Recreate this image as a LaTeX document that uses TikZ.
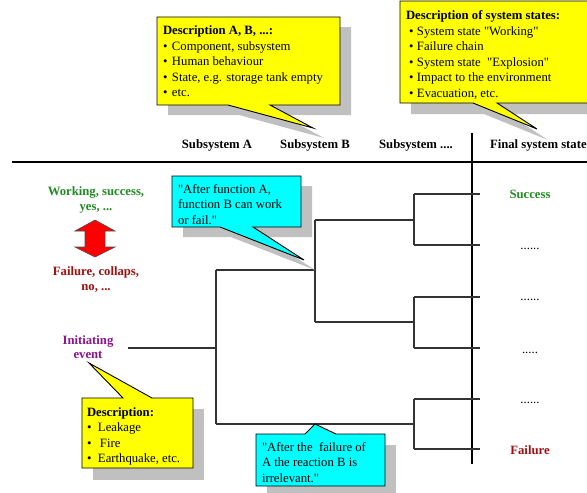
\documentclass[tikz,border=0pt]{standalone}
\usepackage{fontspec}
\setmainfont{Liberation Serif}[Ligatures=TeXOff]
\definecolor{okgreen}{RGB}{34,139,34}
\definecolor{failred}{RGB}{160,16,16}
\definecolor{initpurple}{RGB}{140,20,140}
\definecolor{shadowgray}{RGB}{192,192,192}
\definecolor{cyanbox}{RGB}{0,255,255}
\definecolor{yellowbox}{RGB}{255,255,0}
\newcommand\rows[1]{\begin{tabular}[t]{@{}l@{}}#1\end{tabular}}
\newcommand\crows[1]{\begin{tabular}[t]{@{}c@{}}#1\end{tabular}}
\newcommand\bul[1][9pt]{\makebox[#1][l]{\textbullet}}
\tikzset{
  txt/.style={font=\fontsize{12.7}{15.5}\selectfont, inner sep=0pt, outer sep=0pt},
  boldtxt/.style={txt, font=\fontsize{12.7}{15.5}\selectfont\bfseries},
  hdr/.style={boldtxt, anchor=base},
  tree/.style={draw=black!80, line width=1.2pt},
  callout/.style={draw=black, line width=0.9pt, line join=miter},
  shadowfill/.style={fill=shadowgray},
}
\begin{document}
\begin{tikzpicture}[x=1pt,y=-1pt]
\useasboundingbox (0,0) rectangle (587,493);
\clip (0,0) rectangle (587,493);
\fill[white] (0,0) rectangle (587,493);

% separator lines
\coordinate (hl0) at (12,162);
\coordinate (hl1) at (590,162);
\draw[line width=1.3pt] (hl0) -- (hl1);
\coordinate (vl0) at (472,133);
\coordinate (vl1) at (472,464);
\draw[line width=1.1pt] (vl0) -- (vl1);

% headers
\node[hdr] (hA) at (217,148) {Subsystem A};
\node[hdr] (hB) at (315,148) {Subsystem B};
\node[hdr] (hC) at (416,148) {Subsystem ....};
\node[boldtxt, anchor=base west] (hF) at (490,148) {Final system state};

% event tree
\coordinate (ie0) at (128,348);
\coordinate (a0) at (216,348);
\coordinate (aT) at (216,270);
\coordinate (aB) at (216,424);
\coordinate (bM) at (315,270);
\coordinate (bT) at (315,220);
\coordinate (bB) at (315,322);
\draw[tree] (ie0) -- (a0);
\draw[tree] (aT) -- (aB);
\draw[tree] (aT) -- (bM);
\draw[tree] (bT) -- (bB);
\foreach \n/\from/\m/\t/\b in {1/bT/220/194/245, 2/bB/322/297/348, 3/aB/424/399/449}{
  \coordinate (c\n M) at (414,\m);
  \coordinate (c\n T) at (414,\t);
  \coordinate (c\n B) at (414,\b);
  \coordinate (e\n T) at (480,\t);
  \coordinate (e\n B) at (480,\b);
  \draw[tree] (\from) -- (c\n M);
  \draw[tree] (c\n T) -- (c\n B);
  \draw[tree] (c\n T) -- (e\n T);
  \draw[tree] (c\n B) -- (e\n B);
}

% outcomes
\node[boldtxt, anchor=base, text=okgreen] (succ) at (530,198.5) {Success};
\node[txt, anchor=base] (o2) at (530,249) {......};
\node[txt, anchor=base] (o3) at (530,300) {......};
\node[txt, anchor=base] (o4) at (530,353) {.....};
\node[txt, anchor=base] (o5) at (530,403) {......};
\node[boldtxt, anchor=base, text=failred] (fail) at (530,454.5) {Failure};

% left legend
\node[boldtxt, anchor=base, text=okgreen, font=\fontsize{12.7}{15}\selectfont\bfseries] (work) at (96,195.5) {\crows{Working, success,\\ yes, ...}};
\node[boldtxt, anchor=base, text=failred] (failleg) at (96,275) {\crows{Failure, collaps,\\ no, ...}};
\node[boldtxt, anchor=base, text=initpurple, font=\fontsize{12.7}{14.5}\selectfont\bfseries] (ie) at (88,344) {\crows{Initiating\\ event}};
\filldraw[fill=red, draw=black!70, line width=0.6pt]
  (95,220) -- (115,231) -- (105,231) -- (105,247) -- (115,247) -- (95,257)
  -- (75,247) -- (85,247) -- (85,231) -- (75,231) -- cycle;

% callout: description A, B
\fill[shadowfill, shift={(11,10)}] (157,17) -- (340,17) -- (340,105) -- (270,105) -- (313,128) -- (228,105) -- (157,105) -- cycle;
\filldraw[callout, fill=yellowbox] (157,17) -- (340,17) -- (340,105) -- (270,105) -- (313,128) -- (228,105) -- (157,105) -- cycle;
\node[txt, anchor=base west] (descAB) at (163,34.5) {\rows{\textbf{Description A, B, ...:}\\
  \bul Component, subsystem\\ \bul Human behaviour\\ \bul State, e.g. storage tank empty\\ \bul etc.}};

% callout: system states
\fill[shadowfill, shift={(11,11)}] (400,1) -- (600,1) -- (600,103) -- (497,103) -- (537,129) -- (473,103) -- (400,103) -- cycle;
\filldraw[callout, fill=yellowbox] (400,1) -- (600,1) -- (600,103) -- (497,103) -- (537,129) -- (473,103) -- (400,103) -- cycle;
\node[txt, anchor=base west] (descSS) at (406,19.5) {\rows{\textbf{Description of system states:}\\
  \hspace*{3pt}\bul[8pt]System state "Working"\\ \hspace*{3pt}\bul[8pt]Failure chain\\
  \hspace*{3pt}\bul[8pt]System state\ \ "Explosion"\\ \hspace*{3pt}\bul[8pt]Impact to the environment\\
  \hspace*{3pt}\bul[8pt]Evacuation, etc.}};

% callout: after function A
\fill[shadowfill, shift={(11,10)}] (172,176) -- (301,176) -- (301,227) -- (253,227) -- (304,260) -- (220,227) -- (172,227) -- cycle;
\filldraw[callout, fill=cyanbox] (172,176) -- (301,176) -- (301,227) -- (253,227) -- (304,260) -- (220,227) -- (172,227) -- cycle;
\node[txt, anchor=base west] (afterA) at (178,193) {\rows{"After function A,\\ function B can work\\ or fail."}};

% callout: initiating event description
\fill[shadowfill] (93,409) rectangle (204,480);
\filldraw[callout, fill=yellowbox] (82,398) -- (123,398) -- (89,363) -- (152,398) -- (193,398) -- (193,468) -- (82,468) -- cycle;
\node[txt, anchor=base west] (descIE) at (87,416) {\rows{\textbf{Description:}\\
  \bul[11pt]Leakage\\ \bul[11pt]\hspace*{2pt}Fire\\ \bul[11pt]Earthquake, etc.}};

% callout: after failure of A
\fill[shadowfill] (267,445) rectangle (396,500);
\filldraw[callout, fill=cyanbox] (256,434) -- (305,434) -- (315,424) -- (336,434) -- (385,434) -- (385,486) -- (256,486) -- cycle;
\node[txt, anchor=base west] (afterF) at (262,451) {\rows{"After the\ \ failure of\\ A the reaction B is\\ irrelevant."}};
\end{tikzpicture}
\end{document}
